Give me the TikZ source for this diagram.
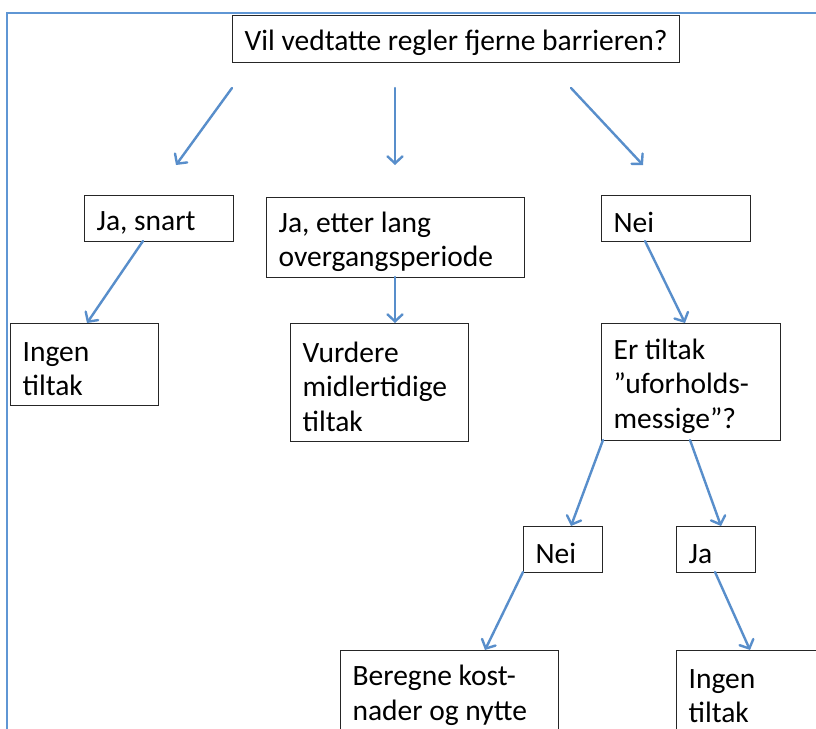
\documentclass[tikz,border=0pt]{standalone}
\usepackage{fontspec}
\setmainfont{Carlito}
\usetikzlibrary{arrows.meta}
\definecolor{arrowblue}{RGB}{88,142,203}
\definecolor{framecol}{RGB}{95,150,212}
\begin{document}
\begin{tikzpicture}[x=1pt,y=-1pt,
  box/.style={draw=black!85, line width=1.2pt, anchor=north west, align=flush left,
    inner xsep=12pt, inner ysep=0pt, font=\fontsize{29.5}{34.5}\selectfont,
    execute at begin node={\rule{0pt}{28.5pt}}},
  arr/.style={draw=arrowblue, line width=2.4pt, line cap=round,
    -{Straight Barb[length=7pt,width=15pt,line cap=round]}}]
\useasboundingbox (0,0) rectangle (816,728);
\clip (0,0) rectangle (816,728);
\fill[white] (0,0) rectangle (816,728);
\draw[framecol, line width=2.2pt] (7,760) -- (7,13) -- (840,13);

\node[box, align=center, minimum width=445pt, minimum height=47pt] (top) at (232,15) {Vil vedtatte regler fjerne barrieren?};
\node[box, minimum width=149pt, minimum height=46pt, text width=125pt] (js) at (84,195) {Ja, snart};
\node[box, minimum width=258pt, minimum height=80pt, text width=234pt] (jl) at (266,197) {Ja, etter lang\\overgangsperiode};
\node[box, minimum width=149pt, minimum height=46pt, text width=125pt] (nei1) at (601,195) {Nei};
\node[box, minimum width=148pt, minimum height=82pt, text width=124pt] (ing1) at (10,323) {Ingen\\tiltak};
\node[box, minimum width=178pt, minimum height=118pt, text width=154pt] (vur) at (290,323) {Vurdere\\midlertidige\\tiltak};
\node[box, minimum width=179pt, minimum height=117pt, text width=155pt] (er) at (601,323) {Er tiltak\\”uforholds-\\messige”?};
\node[box, minimum width=79pt, minimum height=46pt, text width=55pt] (nei2) at (523,526) {Nei};
\node[box, minimum width=79pt, minimum height=46pt, text width=55pt] (ja2) at (676,526) {Ja};
\node[box, minimum width=218pt, minimum height=81pt, text width=194pt] (ber) at (340,650) {Beregne kost-\\nader og nytte};
\node[box, minimum width=160pt, minimum height=81pt, text width=136pt] (ing2) at (676,650) {Ingen\\tiltak};

\coordinate (t1s) at (232,88);  \coordinate (t1e) at (176,165);
\coordinate (t2s) at (395,88);  \coordinate (t2e) at (395,165);
\coordinate (t3s) at (571,88);  \coordinate (t3e) at (643,165);
\coordinate (a4s) at (143,241); \coordinate (a4e) at (87,323);
\coordinate (a5s) at (395,277); \coordinate (a5e) at (395,323);
\coordinate (a6s) at (645,241); \coordinate (a6e) at (685,323);
\coordinate (a7s) at (603,440); \coordinate (a7e) at (571,526);
\coordinate (a8s) at (690,440); \coordinate (a8e) at (721,526);
\coordinate (a9s) at (523,572); \coordinate (a9e) at (485,650);
\coordinate (a10s) at (715,572); \coordinate (a10e) at (750,650);

\draw[arr] (t1s) -- (t1e);
\draw[arr] (t2s) -- (t2e);
\draw[arr] (t3s) -- (t3e);
\draw[arr] (a4s) -- (a4e);
\draw[arr] (a5s) -- (a5e);
\draw[arr] (a6s) -- (a6e);
\draw[arr] (a7s) -- (a7e);
\draw[arr] (a8s) -- (a8e);
\draw[arr] (a9s) -- (a9e);
\draw[arr] (a10s) -- (a10e);
\end{tikzpicture}
\end{document}
